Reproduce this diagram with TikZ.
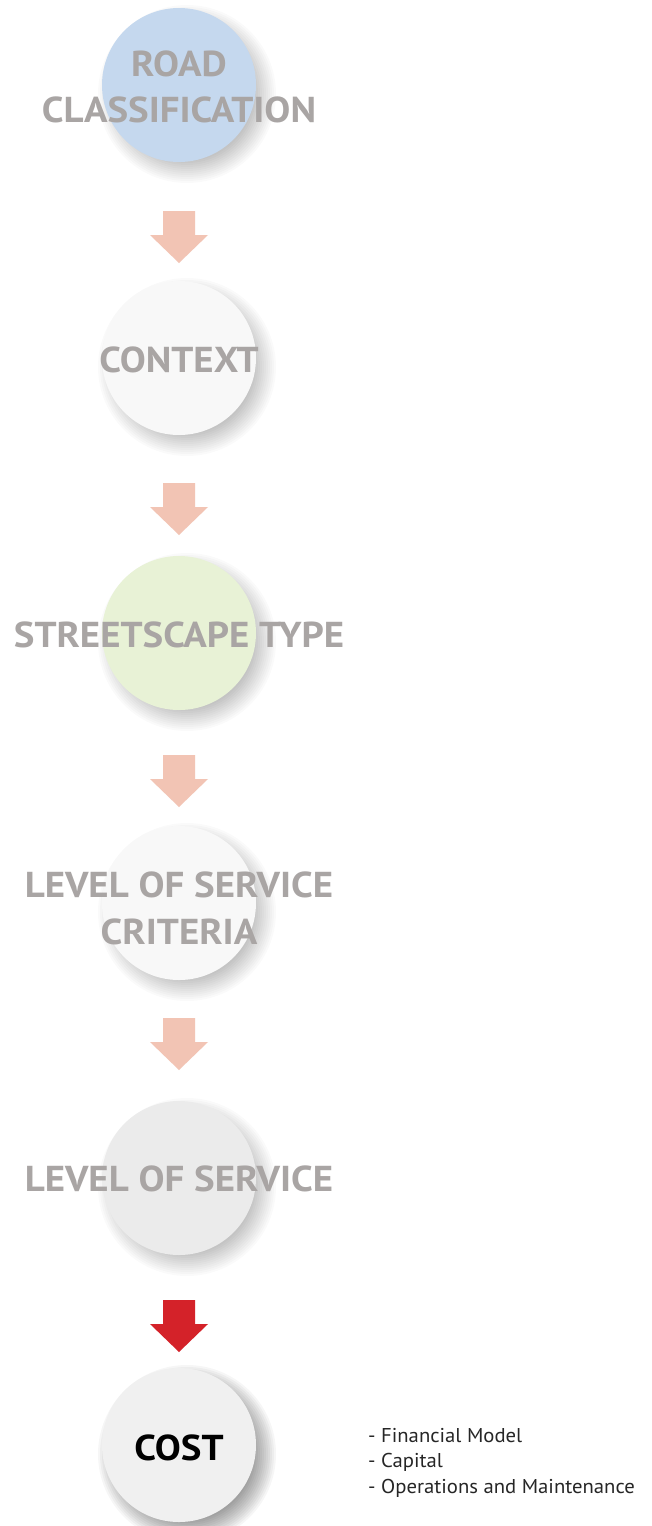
\documentclass[tikz,border=0pt]{standalone}
\usepackage{fontspec}
\setmainfont{PT Sans}
\newfontfamily\labelfont[FakeStretch=1.08]{PT Sans}
\newfontfamily\listfont[FakeStretch=1.035]{PT Sans}
\definecolor{txtgray}{HTML}{A9A5A4}
\definecolor{arrowpink}{HTML}{F2C4B4}
\definecolor{arrowred}{HTML}{D42229}
\definecolor{cblue}{HTML}{C5D8EE}
\definecolor{cwhite}{HTML}{F8F8F8}
\definecolor{cgreen}{HTML}{E8F2D6}
\definecolor{cgrayA}{HTML}{EBEBEB}
\definecolor{cgrayB}{HTML}{F0F0F0}
\newcommand\softshadow[3]{%
  \foreach \i in {0,...,13}{%
    \fill[black,opacity=#3] (#1+8,#2+9) circle[radius=89-2*\i];
  }%
}
\tikzset{
  stepcircle/.style={circle, minimum size=154pt, inner sep=0pt, draw=none},
  steplabel/.style={text=txtgray, font=\labelfont\bfseries\fontsize{36}{40}\selectfont, anchor=base, inner sep=0pt},
  listtext/.style={text=black!85, font=\listfont\fontsize{20}{24}\selectfont, anchor=base west, inner sep=0pt},
  blockarrow/.pic={\fill[pic actions] (-16,0) -- (16,0) -- (16,24) -- (29,24) -- (0,52) -- (-29,24) -- (-16,24) -- cycle;}
}
\begin{document}
\begin{tikzpicture}[x=1pt,y=-1pt]
\fill[white] (0,0) rectangle (652,1526);
\useasboundingbox (0,0) rectangle (652,1526);
% shadows
\softshadow{179}{85}{0.018}
\softshadow{179}{358}{0.018}
\softshadow{179}{633}{0.018}
\softshadow{179}{903}{0.018}
\softshadow{179}{1178}{0.018}
\softshadow{179}{1445}{0.035}
% circles
\node[stepcircle, fill=cblue] (c1) at (179,85) {};
\node[stepcircle, fill=cwhite] (c2) at (179,358) {};
\node[stepcircle, fill=cgreen] (c3) at (179,633) {};
\node[stepcircle, fill=cwhite] (c4) at (179,903) {};
\node[stepcircle, fill=cgrayA] (c5) at (179,1178) {};
\node[stepcircle, fill=cgrayB] (c6) at (179,1445) {};
% labels
\node[steplabel] (t1a) at (179,76) {ROAD};
\node[steplabel] (t1b) at (179,122) {CLASSIFICATION};
\node[steplabel] (t2) at (179,372) {CONTEXT};
\node[steplabel] (t3) at (179,647) {STREETSCAPE TYPE};
\node[steplabel] (t4a) at (179,897) {LEVEL OF SERVICE};
\node[steplabel] (t4b) at (179,944) {CRITERIA};
\node[steplabel] (t5) at (179,1191) {LEVEL OF SERVICE};
\node[steplabel, text=black] (t6) at (179,1460) {COST};
% arrows
\pic[fill=arrowpink] at (179,211) {blockarrow};
\pic[fill=arrowpink] at (179,483) {blockarrow};
\pic[fill=arrowpink] at (179,755) {blockarrow};
\pic[fill=arrowpink] at (179,1018) {blockarrow};
\pic[fill=arrowred] at (179,1300) {blockarrow};
% list
\node[listtext] (l1) at (368,1442) {- Financial Model};
\node[listtext] (l2) at (368,1467) {- Capital};
\node[listtext] (l3) at (368,1493) {- Operations and Maintenance};
\end{tikzpicture}
\end{document}
